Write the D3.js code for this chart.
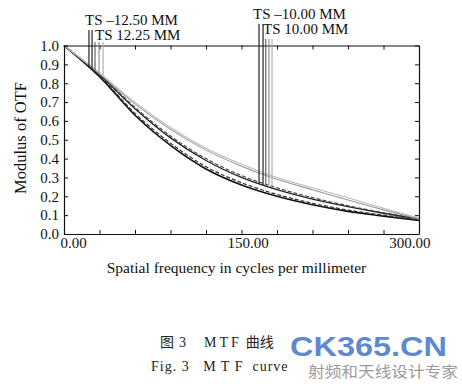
<!DOCTYPE html>
<html>
<head>
<meta charset="utf-8">
<script src="https://cdn.jsdelivr.net/npm/d3@7"></script>
<style>
  body { margin: 0; background: #fff; }
  svg { display: block; }
  text { font-family: "Liberation Serif", "Noto Sans CJK SC", serif; }
</style>
</head>
<body>
<script>
// spatial frequency samples (cycles/mm)
const freqs = [0, 30, 60, 90, 120, 150, 180, 210, 240, 270, 300];

// MTF curves
const lowSolid  = [1.0, 0.835, 0.630, 0.470, 0.345, 0.260, 0.200, 0.155, 0.120, 0.095, 0.072];
const lowDash   = [1.0, 0.840, 0.640, 0.482, 0.357, 0.272, 0.210, 0.163, 0.127, 0.100, 0.075];
const midSolid  = [1.0, 0.845, 0.665, 0.510, 0.390, 0.300, 0.235, 0.185, 0.145, 0.110, 0.080];
const midDash   = [1.0, 0.848, 0.672, 0.520, 0.400, 0.310, 0.245, 0.193, 0.150, 0.113, 0.080];
const graySolid = [1.0, 0.850, 0.690, 0.555, 0.445, 0.360, 0.290, 0.235, 0.180, 0.128, 0.080];
const grayLight = [1.0, 0.855, 0.698, 0.565, 0.455, 0.370, 0.300, 0.245, 0.192, 0.137, 0.085];

const legendLabels = ['TS \u201312.50 MM', 'TS 12.25 MM', 'TS \u201310.00 MM', 'TS 10.00 MM'];

// frequencies where the legend pointer lines drop onto the curves
const leftMarks  = [21.1, 23.7, 26.2, 29.6, 33.0];
const rightMarks = [164.8, 168.2, 170.5, 173.2, 175.8];

const xTickLabels = [0, 150, 300];

const W = 462, H = 389;
const m = { left: 64, right: 419, top: 45.5, bottom: 234 };

const svg = d3.select('body').append('svg')
  .attr('width', W)
  .attr('height', H);

const x = d3.scaleLinear().domain([0, 300]).range([m.left, m.right]);
const y = d3.scaleLinear().domain([0, 1]).range([m.bottom, m.top]);

const curves = [
  { v: lowSolid,  color: '#111', w: 1.6, dash: null },
  { v: lowDash,   color: '#333', w: 1.2, dash: '4,2' },
  { v: midSolid,  color: '#222', w: 1.3, dash: null },
  { v: midDash,   color: '#444', w: 1.1, dash: '4,2' },
  { v: graySolid, color: '#999', w: 1.1, dash: null },
  { v: grayLight, color: '#bbb', w: 1.1, dash: null },
];

const line = d3.line()
  .x((d, i) => x(freqs[i]))
  .y(d => y(d))
  .curve(d3.curveMonotoneX);

// curve value at any frequency (linear between samples, close enough)
const valueAt = (arr, f) => {
  const i = Math.min(Math.floor(f / 30), freqs.length - 2);
  const t = (f - freqs[i]) / 30;
  return arr[i] + (arr[i + 1] - arr[i]) * t;
};

//curves
svg.append('g').selectAll('path')
  .data(curves)
  .enter()
  .append('path')
  .attr('d', d => line(d.v))
  .attr('fill', 'none')
  .attr('stroke', d => d.color)
  .attr('stroke-width', d => d.w)
  .attr('stroke-dasharray', d => d.dash);

//frame and ticks (all pointing inward)
const ticks30 = d3.range(0, 301, 30);
const fmtX = d => (xTickLabels.includes(d) ? d3.format('.2f')(d) : '');

const xBottom = svg.append('g')
  .attr('transform', `translate(0,${m.bottom})`)
  .call(d3.axisBottom(x).tickValues(ticks30).tickSizeInner(-4).tickSizeOuter(0).tickPadding(3).tickFormat(fmtX));
xBottom.selectAll('text')
  .attr('font-size', 15)
  .attr('text-anchor', d => (d === 0 ? 'start' : d === 300 ? 'end' : 'middle'))
  .attr('dx', d => (d === 0 ? -4 : d === 300 ? 11 : 6));

svg.append('g')
  .attr('transform', `translate(0,${m.top})`)
  .call(d3.axisTop(x).tickValues(ticks30).tickSizeInner(-4).tickSizeOuter(0).tickFormat(''));

svg.append('g')
  .attr('transform', `translate(${m.left},0)`)
  .call(d3.axisLeft(y).ticks(10).tickSizeInner(-4).tickSizeOuter(0).tickPadding(5).tickFormat(d3.format('.1f')))
  .selectAll('text')
  .attr('font-size', 15);

svg.append('g')
  .attr('transform', `translate(${m.right},0)`)
  .call(d3.axisRight(y).ticks(10).tickSizeInner(-4).tickSizeOuter(0).tickFormat(''));

svg.selectAll('.domain').attr('stroke', '#111').attr('stroke-width', 1.2);
svg.selectAll('.tick line').attr('stroke', '#111');
svg.selectAll('.tick text').attr('fill', '#111');

//legend labels and pointer lines
const markColors = ['#111', '#111', '#555', '#888', '#aaa'];
const leftEnds = [lowSolid, midSolid, midDash, graySolid, grayLight];
const rightEnds = [midSolid, midSolid, midDash, midDash, midDash];

const legendPos = [
  { x: 85, y: 25 }, { x: 95, y: 40 },
  { x: 253, y: 19 }, { x: 263, y: 34 },
];
svg.append('g').selectAll('text')
  .data(legendLabels)
  .enter()
  .append('text')
  .attr('x', (d, i) => legendPos[i].x)
  .attr('y', (d, i) => legendPos[i].y)
  .attr('font-size', 15)
  .attr('fill', '#111')
  .text(d => d);

const drawMarks = (marks, ends, top1, top2) => {
  svg.append('g').selectAll('line')
    .data(marks)
    .enter()
    .append('line')
    .attr('x1', d => x(d))
    .attr('x2', d => x(d))
    .attr('y1', (d, i) => (i < 2 ? top1 : top2))
    .attr('y2', (d, i) => y(valueAt(ends[i], d)))
    .attr('stroke', (d, i) => markColors[i])
    .attr('stroke-width', 1.1);
};
drawMarks(leftMarks, leftEnds, 30, 42);
drawMarks(rightMarks, rightEnds, 24, 39);

//axis titles
svg.append('text')
  .attr('x', 236.5)
  .attr('y', 273)
  .attr('text-anchor', 'middle')
  .attr('font-size', 15.5)
  .attr('fill', '#111')
  .text('Spatial frequency in cycles per millimeter');

svg.append('text')
  .attr('transform', 'translate(26,138) rotate(-90)')
  .attr('text-anchor', 'middle')
  .attr('font-size', 16.5)
  .attr('fill', '#111')
  .text('Modulus of OTF');

//caption
const cap = svg.append('text')
  .attr('x', 160)
  .attr('y', 347)
  .attr('font-size', 14)
  .attr('fill', '#222');
cap.append('tspan').text('图');
cap.append('tspan').attr('dx', 5).text('3');
cap.append('tspan').attr('dx', 18).attr('letter-spacing', 3).text('MTF');
cap.append('tspan').attr('dx', 4).text('曲线');

svg.append('text')
  .attr('x', 151)
  .attr('y', 371)
  .attr('font-size', 14)
  .attr('fill', '#222')
  .attr('letter-spacing', 1)
  .attr('xml:space', 'preserve')
  .text('Fig. 3   M T F  curve');

//watermark
svg.append('text')
  .attr('x', 290)
  .attr('y', 356)
  .style('font-family', '"Liberation Sans", Arial, sans-serif')
  .attr('font-weight', 'bold')
  .attr('font-size', 27)
  .attr('textLength', 157)
  .attr('lengthAdjust', 'spacingAndGlyphs')
  .attr('fill', '#3f74c8')
  .attr('fill-opacity', 0.85)
  .text('CK365.CN');

svg.append('text')
  .attr('x', 308)
  .attr('y', 377)
  .style('font-family', '"Noto Sans CJK SC", sans-serif')
  .attr('font-size', 15)
  .attr('textLength', 150)
  .attr('lengthAdjust', 'spacingAndGlyphs')
  .attr('fill', '#9a9a9a')
  .text('射频和天线设计专家');
</script>
</body>
</html>
